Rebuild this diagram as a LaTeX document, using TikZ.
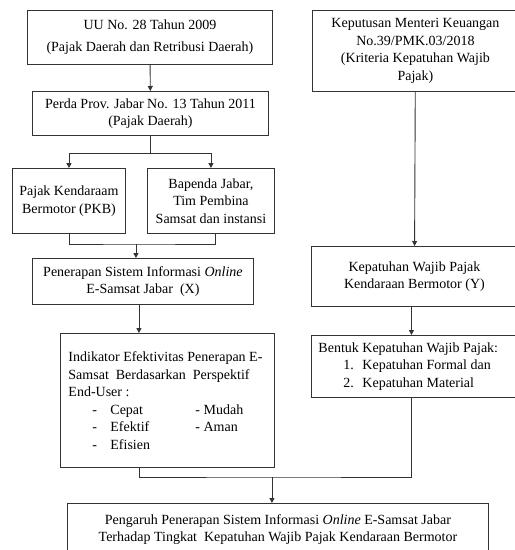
\documentclass[tikz,border=0pt]{standalone}
\usepackage{fontspec}
\setmainfont{Liberation Serif}
\usetikzlibrary{positioning, calc, arrows.meta}

\begin{document}
\begin{tikzpicture}[
    x=1pt, y=-1pt,
    box/.style={draw=black!80, line width=0.9pt, anchor=north west, inner sep=4pt,
        align=center, font=\fontsize{14}{17.5}\selectfont},
    listbox/.style={box, align=flush left, inner sep=8pt},
    link/.style={draw=black!80, line width=0.9pt},
    arrow/.style={link, -{Triangle[length=5pt, width=5pt]}}
]
    \useasboundingbox (0,0) rectangle (515,550);
    \clip (0,0) rectangle (515,550);

    % Left column
    \node[box, minimum width=245pt, minimum height=54pt, font=\fontsize{14}{22}\selectfont] (uu) at (27,10)
        {UU No. 28 Tahun 2009\\(Pajak Daerah dan Retribusi Daerah)};
    \node[box, minimum width=236pt, minimum height=44pt] (perda) at (32,91)
        {Perda Prov. Jabar No. 13 Tahun 2011\\(Pajak Daerah)};
    \node[box, minimum width=113pt, minimum height=65pt] (pkb) at (12,168)
        {Pajak Kendaraam\\Bermotor (PKB)};
    \node[box, minimum width=127pt, minimum height=65pt] (bapenda) at (147,168)
        {Bapenda Jabar,\\Tim Pembina\\Samsat dan instansi};
    \node[box, minimum width=221pt, minimum height=46pt] (penerapan) at (32,258)
        {Penerapan Sistem Informasi \textit{Online}\\E-Samsat Jabar\ \ (X)};
    \node[listbox, text width=198pt, minimum height=134pt] (indikator) at (60,333)
        {Indikator Efektivitas Penerapan E-\\
         Samsat\ \ Berdasarkan\ \ Perspektif\\
         End-User :\\
         \hspace*{24pt}\makebox[18pt][l]{-}\makebox[85pt][l]{Cepat}- Mudah\\
         \hspace*{24pt}\makebox[18pt][l]{-}\makebox[85pt][l]{Efektif}- Aman\\
         \hspace*{24pt}\makebox[18pt][l]{-}Efisien};

    % Right column
    \node[box, minimum width=206pt, minimum height=81pt] (kmk) at (312,10)
        {Keputusan Menteri Keuangan\\No.39/PMK.03/2018\\(Kriteria Kepatuhan Wajib\\Pajak)};
    \node[box, minimum width=206pt, minimum height=60pt] (kepatuhan) at (311,246)
        {Kepatuhan Wajib Pajak\\Kendaraan Bermotor (Y)};
    \node[listbox, inner sep=7pt, text width=196pt, minimum height=59pt] (bentuk) at (311,335)
        {Bentuk Kepatuhan Wajib Pajak:\\
         \hspace*{25pt}\makebox[19pt][l]{1.}Kepatuhan Formal dan\\
         \hspace*{25pt}\makebox[19pt][l]{2.}Kepatuhan Material};

    % Bottom
    \node[box, minimum width=421pt, minimum height=52pt] (pengaruh) at (67,503)
        {Pengaruh Penerapan Sistem Informasi \textit{Online} E-Samsat Jabar\\
         Terhadap Tingkat\ \ Kepatuhan Wajib Pajak Kendaraan Bermotor};

    % Helper points
    \coordinate (split) at ([yshift=-18pt]perda.south);
    \coordinate (join1) at ([xshift=-7pt, yshift=14pt]penerapan.north);
    \coordinate (join2) at ([xshift=-6pt, yshift=26pt]pengaruh.north);

    % Connectors
    \draw[arrow] (uu) -- (perda);
    \draw[link] (perda) -- (split);
    \draw[arrow] (split) -| (pkb);
    \draw[arrow] (split) -| (bapenda);
    \draw[link] (pkb) |- (join1) -| ([xshift=4pt]bapenda.south);
    \draw[arrow] (join1) -- (join1 |- penerapan.north);
    \draw[arrow] ([xshift=-4pt]penerapan.south) -- ([xshift=-4pt]penerapan.south |- indikator.north);
    \draw[arrow] (kmk) -- (kepatuhan);
    \draw[arrow] ([xshift=-3pt]kepatuhan.south) -- ([xshift=-3pt]kepatuhan.south |- bentuk.north);
    \draw[link] ([xshift=-28pt]indikator.south) |- (join2) -| ([xshift=-5pt]bentuk.south);
    \draw[arrow] (join2) -- (join2 |- pengaruh.north);
\end{tikzpicture}
\end{document}
